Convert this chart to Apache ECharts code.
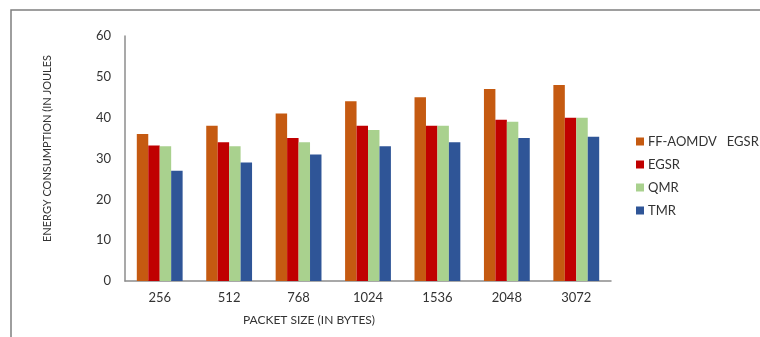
<!DOCTYPE html>
<html>
<head>
<meta charset="utf-8">
<script src="https://cdn.jsdelivr.net/npm/echarts@6/dist/echarts.min.js"></script>
<style>
  html, body { margin: 0; padding: 0; background: #fff; }
  #main { width: 760px; height: 337px; }
</style>
</head>
<body>
<div id="main"></div>
<script>
const packetSizes = ['256', '512', '768', '1024', '1536', '2048', '3072'];
const ffAomdv = [36, 38, 41, 44, 45, 47, 48];
const egsr = [33.2, 34, 35, 38, 38, 39.5, 40];
const qmr = [33, 33, 34, 37, 38, 39, 40];
const tmr = [27, 29, 31, 33, 34, 35, 35.3];
const yTicks = { min: 0, max: 60, interval: 10 };

const myChart = echarts.init(document.getElementById('main'));
const font = 'Lato, "Open Sans", sans-serif';

const bar = (name, data, color) => ({
  name: name,
  type: 'bar',
  data: data,
  barGap: '0%',
  barCategoryGap: '34%',
  itemStyle: { color: color }
});

const option = {
  animation: false,
  textStyle: { fontFamily: font },
  graphic: [
    {
      type: 'rect',
      shape: { x: 11, y: 10, width: 800, height: 400 },
      style: { fill: 'none', stroke: '#7f7f7f', lineWidth: 1.5 }
    }
  ],
  grid: { left: 125, right: 149, top: 36, bottom: 56 },
  legend: {
    orient: 'vertical',
    left: 631,
    top: 130,
    itemWidth: 8,
    itemHeight: 8,
    itemGap: 10,
    icon: 'rect',
    textStyle: { fontSize: 13, color: '#333', fontFamily: font, padding: [0, 0, 0, -1] },
    data: ['FF-AOMDV   EGSR', 'EGSR', 'QMR', 'TMR']
  },
  xAxis: {
    type: 'category',
    data: packetSizes,
    name: 'PACKET SIZE (IN BYTES)',
    nameLocation: 'middle',
    nameGap: 33,
    nameTextStyle: { fontSize: 12, color: '#333', padding: [0, 118, 0, 0] },
    axisLine: { lineStyle: { color: '#8c8c8c', width: 1.5 } },
    axisTick: { show: false },
    axisLabel: { fontSize: 13, color: '#333', margin: 10 }
  },
  yAxis: {
    type: 'value',
    min: yTicks.min,
    max: yTicks.max,
    interval: yTicks.interval,
    name: 'ENERGY CONSUMPTION (IN JOULES',
    nameLocation: 'middle',
    nameGap: 72,
    nameTextStyle: { fontSize: 11, color: '#333', padding: [0, 0, 0, 20] },
    axisLine: { show: true, lineStyle: { color: '#8c8c8c', width: 1.5 } },
    axisTick: { show: false },
    splitLine: { show: false },
    axisLabel: { fontSize: 13, color: '#333', margin: 14 }
  },
  series: [
    bar('FF-AOMDV   EGSR', ffAomdv, '#C55A11'),
    bar('EGSR', egsr, '#C00000'),
    bar('QMR', qmr, '#A9D18E'),
    bar('TMR', tmr, '#2F5597')
  ]
};

myChart.setOption(option);
</script>
</body>
</html>
